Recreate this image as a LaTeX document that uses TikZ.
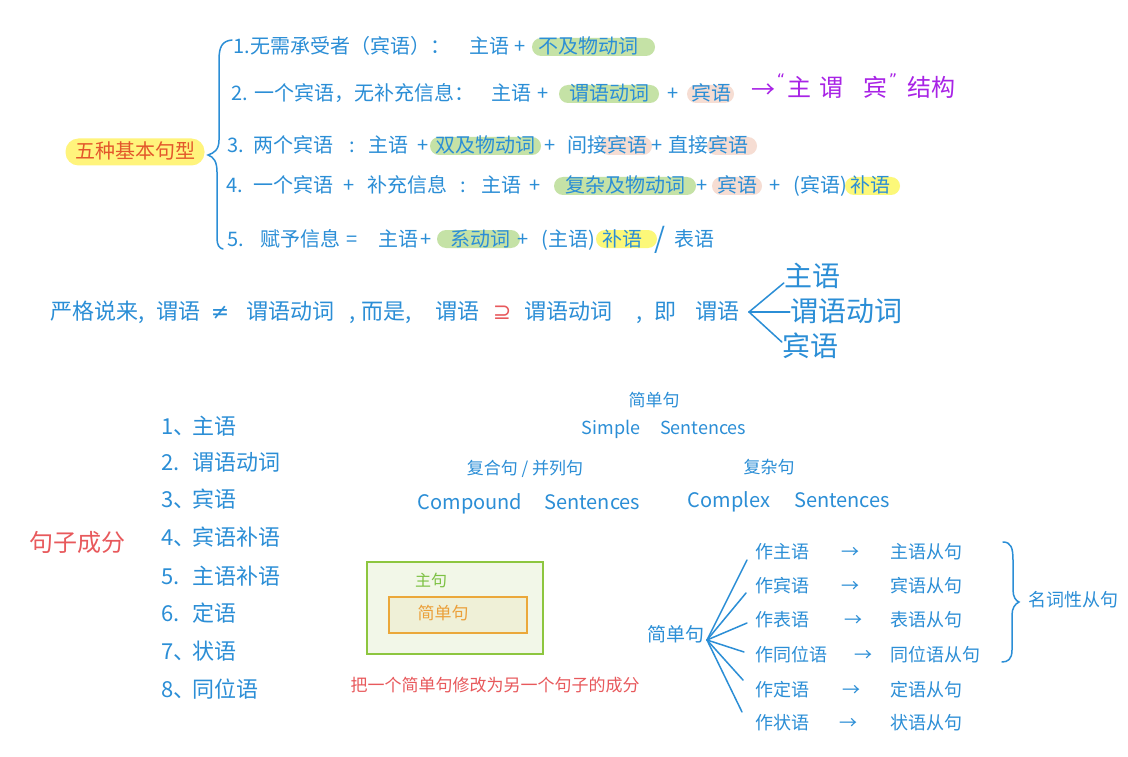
\documentclass[tikz,border=0pt]{standalone}
\usepackage{fontspec}
\setmainfont{Noto Sans CJK SC}
\newfontfamily\symf{DejaVu Sans}
\definecolor{blu}{HTML}{2B8ED6}
\definecolor{purp}{HTML}{A823E6}
\definecolor{redt}{HTML}{E8595C}
\definecolor{orng}{HTML}{E3572B}
\definecolor{hlg}{HTML}{C5E2A6}
\definecolor{hlp}{HTML}{F6DDD3}
\definecolor{hly}{HTML}{FCF879}
\definecolor{ttl}{HTML}{FFF47C}
\definecolor{boxg}{HTML}{8DC63F}
\definecolor{boxgf}{HTML}{F2F7E8}
\definecolor{boxo}{HTML}{EBA83A}
\definecolor{boxof}{HTML}{EFF0D7}
\definecolor{txtg}{HTML}{7CC143}
\definecolor{txto}{HTML}{EBA03A}
\newcommand{\fsz}[1]{\fontsize{#1pt}{#1pt}\selectfont}
\tikzset{
 tx/.style={inner sep=0pt,text=blu},
 f16/.style={font=\fsz{16},text height=13.1pt,text depth=1.9pt},
 f17/.style={font=\fsz{17},text height=13.9pt,text depth=2pt},
 f18/.style={font=\fsz{18},text height=14.8pt,text depth=2.2pt},
 f19/.style={font=\fsz{19},text height=15.6pt,text depth=2.3pt},
 f20/.style={font=\fsz{20},text height=16.4pt,text depth=2.4pt},
 f22/.style={font=\fsz{22},text height=18pt,text depth=2.6pt},
 f24/.style={font=\fsz{24},text height=19.7pt,text depth=2.9pt},
 f28/.style={font=\fsz{28},text height=23pt,text depth=3.4pt},
 sy22/.style={font=\symf\fsz{22},text height=18pt,text depth=2.6pt},
 ln/.style={tx,f20},
 md/.style={tx,f22},
 pu/.style={tx,f24,text=purp},
 hg/.style={fill=hlg,rounded corners=9pt},
 hp/.style={fill=hlp,rounded corners=9pt},
 hy/.style={fill=hly,rounded corners=9pt},
 bl/.style={draw=blu,line width=1.5pt,line cap=round},
}
\begin{document}
\begin{tikzpicture}[x=1pt,y=-1pt]
\useasboundingbox (0,0) rectangle (1128,757);
\fill[white] (0,0) rectangle (1128,757);

% ---------- highlights ----------
\fill[hg] (532,38) rectangle (655,56);
\fill[hg] (559,85) rectangle (659,103);
\fill[hp] (687,85) rectangle (734,103);
\fill[hg] (430,137) rectangle (541,155);
\fill[hp] (600,137) rectangle (652,155);
\fill[hp] (707,137) rectangle (757,155);
\fill[hg] (554,177) rectangle (696,195);
\fill[hp] (712,177) rectangle (762,195);
\fill[hy] (845,177) rectangle (900,195);
\fill[hg] (437,230) rectangle (520,248);
\fill[hy] (596,230) rectangle (657,248);

% ---------- title and brace ----------
\node[tx,f20,text=orng,fill=ttl,rounded corners=13pt,minimum width=139pt,minimum height=27pt] (title) at (135,152) {五种基本句型};
\draw[bl] (232,40) .. controls (222,41) and (219,47) .. (219,60) -- (219,140)
  .. controls (219,150) and (214,153) .. (208,155)
  .. controls (214,157) and (217,162) .. (217,172) -- (217,238)
  .. controls (217,245) and (219,248) .. (223,249);

% ---------- line 1 ----------
\node[ln] (a1) at (342,47) {1.无需承受者（宾语）：};
\node[ln] (a2) at (489,47) {主语};
\node[ln] (a3) at (520,47) {+};
\node[ln] (a4) at (588,47) {不及物动词};

% ---------- line 2 ----------
\node[ln] (b1) at (353,94) {2. 一个宾语，无补充信息：};
\node[ln] (b2) at (511,94) {主语};
\node[ln] (b3) at (543,94) {+};
\node[ln] (b4) at (609,94) {谓语动词};
\node[ln] (b5) at (673,94) {+};
\node[ln] (b6) at (711,94) {宾语};
\node[pu] (p1) at (763,90) {→};
\node[tx,sy22,text=purp,font=\symf\fsz{16}] (p2) at (781,78) {“};
\node[pu] (p3) at (799,88) {主};
\node[pu] (p4) at (831,88) {谓};
\node[pu] (p5) at (875,88) {宾};
\node[tx,sy22,text=purp,font=\symf\fsz{16}] (p6) at (893,78) {”};
\node[pu] (p7) at (931,88) {结构};

% ---------- line 3 ----------
\node[ln] (c1) at (236,146) {3.};
\node[ln] (c2) at (293,146) {两个宾语};
\node[ln] (c3) at (352,146) {:};
\node[ln] (c4) at (388,146) {主语};
\node[ln] (c5) at (423,146) {+};
\node[ln] (c6) at (485,146) {双及物动词};
\node[ln] (c7) at (550,146) {+};
\node[ln] (c8) at (607,146) {间接宾语};
\node[ln] (c9) at (657,146) {+};
\node[ln] (c10) at (708,146) {直接宾语};

% ---------- line 4 ----------
\node[ln] (d1) at (235,186) {4.};
\node[ln] (d2) at (293,186) {一个宾语};
\node[ln] (d3) at (349,186) {+};
\node[ln] (d4) at (407,186) {补充信息};
\node[ln] (d5) at (463,186) {:};
\node[ln] (d6) at (501,186) {主语};
\node[ln] (d7) at (535,186) {+};
\node[ln] (d8) at (625,186) {复杂及物动词};
\node[ln] (d9) at (702,186) {+};
\node[ln] (d10) at (737,186) {宾语};
\node[ln] (d11) at (775,186) {+};
\node[ln] (d12) at (820,186) {(宾语)};
\node[ln] (d13) at (870,186) {补语};

% ---------- line 5 ----------
\node[ln] (e1) at (236,239) {5.};
\node[ln] (e2) at (300,239) {赋予信息};
\node[ln] (e3) at (352,239) {=};
\node[ln] (e4) at (398,239) {主语};
\node[ln] (e5) at (426,239) {+};
\node[ln] (e6) at (480,239) {系动词};
\node[ln] (e7) at (523,239) {+};
\node[ln] (e8) at (568,239) {(主语)};
\node[ln] (e9) at (622,239) {补语};
\node[tx,f28] (e10) at (660,239) {/};
\node[ln] (e11) at (694,239) {表语};

% ---------- middle line ----------
\node[md,anchor=west] (m1) at (50,312) {严格说来,};
\node[md] (m2) at (178,312) {谓语};
\node[tx,sy22] (m3) at (220,312) {≠};
\node[md] (m4) at (290,312) {谓语动词};
\node[md] (m5) at (353,312) {,};
\node[md] (m6) at (387,312) {而是,};
\node[md] (m7) at (457,312) {谓语};
\node[tx,sy22,text=redt] (m8) at (502,312) {⊇};
\node[md] (m9) at (568,312) {谓语动词};
\node[md] (m10) at (640,312) {,};
\node[md] (m11) at (665,312) {即};
\node[md] (m12) at (717,312) {谓语};
\coordinate (hubm) at (749,312);
\node[tx,f28] (bz) at (812,277) {主语};
\node[tx,f28] (bv) at (846,312) {谓语动词};
\node[tx,f28] (bb) at (810,347) {宾语};
\draw[bl] (hubm) -- ([yshift=-6pt]bz.west);
\draw[bl] (hubm) -- (bv.west);
\draw[bl] (hubm) -- ([yshift=5pt]bb.west);

% ---------- sentence parts list ----------
\node[tx,f24,text=redt] (jzcf) at (78,543) {句子成分};
\foreach \n/\num/\txt/\yy in {1/1、/主语/427, 2/2./谓语动词/463, 3/3、/宾语/500, 4/4、/宾语补语/538, 5/5./主语补语/577, 6/6./定语/614, 7/7、/状语/652, 8/8、/同位语/690}{
  \node[md,anchor=west] (num\n) at (161,\yy) {\num};
  \node[md,anchor=west] (item\n) at (192,\yy) {\txt};
}

% ---------- sentence types ----------
\node[tx,f17] (jdj) at (654,401) {简单句};
\node[tx,f18] (ss) at (664,428) {Simple\hspace{1.1em}Sentences};
\node[tx,f17] (fhj) at (525,469) {复合句 / 并列句};
\node[tx,f20] (cs) at (529,502) {Compound\hspace{1.1em}Sentences};
\node[tx,f17] (fzj) at (769,468) {复杂句};
\node[tx,f20] (cxs) at (789,500) {Complex\hspace{1.2em}Sentences};

% ---------- box ----------
\node[draw=boxg,fill=boxgf,line width=1.5pt,minimum width=176pt,minimum height=92pt,inner sep=0pt] (outer) at (455,608) {};
\node[tx,f16,text=txtg] (zj) at (431,581) {主句};
\node[draw=boxo,fill=boxof,line width=1.3pt,minimum width=138pt,minimum height=36pt,inner sep=0pt] (inner) at (458,615) {};
\node[tx,f17,text=txto] (jdj2) at (443,614) {简单句};
\node[tx,f17,text=redt] (note) at (495,686) {把一个简单句修改为另一个句子的成分};

% ---------- clause tree ----------
\node[tx,f19] (jd) at (676,635) {简单句};
\coordinate (hub) at (707,640);
\foreach \n/\a/\b/\yy/\ax/\dx/\dy in {1/作主语/主语从句/552/850/-8/-8, 2/作宾语/宾语从句/586/850/-9/-7, 3/作表语/表语从句/620/853/-8/-3, 4/作同位语/同位语从句/655/863/-11/3, 5/作定语/定语从句/690/851/-12/10, 6/作状语/状语从句/723/848/-13/11}{
  \node[tx,f18,anchor=west] (r\n) at (755,\yy) {\a};
  \node[tx,f18] (ar\n) at (\ax,\yy) {→};
  \node[tx,f18,anchor=west] (s\n) at (890,\yy) {\b};
  \draw[bl] (hub) -- ([xshift=\dx pt,yshift=\dy pt]r\n.west);
}
\draw[bl] (1003,542) .. controls (1011,542) and (1013,548) .. (1013,560) -- (1013,590)
  .. controls (1013,597) and (1016,601) .. (1019,602)
  .. controls (1015,604) and (1012,608) .. (1012,615) -- (1012,650)
  .. controls (1012,659) and (1008,662) .. (1002,662);
\node[tx,f18] (mcx) at (1073,600) {名词性从句};
\end{tikzpicture}
\end{document}
